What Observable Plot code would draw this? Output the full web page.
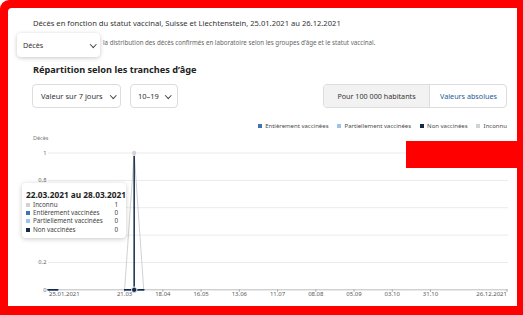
<!DOCTYPE html>
<html>
<head>
<meta charset="utf-8">
<script src="https://cdn.jsdelivr.net/npm/d3@7"></script>
<script src="https://cdn.jsdelivr.net/npm/@observablehq/plot@0.6"></script>
<style>
  html, body { margin: 0; padding: 0; }
  body { width: 523px; height: 315px; overflow: hidden; background: #fff; position: relative; font-family: "Noto Sans", sans-serif; color: #333; }
  .abs { position: absolute; white-space: nowrap; }
  .frame { left: 0; top: 0; width: 523px; height: 315px; background: #ff0000; border-radius: 9px 0 0 0; }
  .card { left: 8px; top: 8px; width: 509px; height: 298px; background: #fff; border-radius: 4px 0 0 0; }
  .chev { position: absolute; display: block; width: 3.5px; height: 3.5px; border-right: 1.2px solid #444; border-bottom: 1.2px solid #444; transform: rotate(45deg); }
  .btn { border: 1px solid #dcdcdc; border-radius: 4px; background: #fff; box-sizing: border-box; }
  #chart { position: absolute; left: 0; top: 130px; z-index: 2; }
  #redbox { left: 406px; top: 141px; width: 117px; height: 27px; background: #ff0000; z-index: 5; }
  #tooltip { left: 22px; top: 183px; width: 104px; height: 55px; background: #fff; border-radius: 4px; box-shadow: 0 1px 5px rgba(0,0,0,0.22); z-index: 4; }
  #legend { right: 16px; top: 121px; height: 9px; display: flex; align-items: center; font-size: 6px; color: #4a4a4a; z-index: 3; }
  #legend span.sq { display: inline-block; width: 4px; height: 4px; margin-right: 3.5px; }
  #legend span.it { display: inline-flex; align-items: center; margin-left: 8.5px; }
</style>
</head>
<body>
<script>
// ---------- Data ----------
const title = "Décès en fonction du statut vaccinal, Suisse et Liechtenstein, 25.01.2021 au 26.12.2021";
const subtitle = "la distribution des décès confirmés en laboratoire selon les groupes d’âge et le statut vaccinal.";
const heading = "Répartition selon les tranches d’âge";
const yAxisLabel = "Décès";

// weekly points (week ending Sunday)
const semaines = ["2021-01-24","2021-01-31","2021-02-07","2021-02-14","2021-02-21","2021-02-28","2021-03-07","2021-03-14","2021-03-21","2021-03-28","2021-04-04","2021-04-11","2021-04-18","2021-04-25","2021-05-02","2021-05-09","2021-05-16","2021-05-23","2021-05-30","2021-06-06","2021-06-13","2021-06-20","2021-06-27","2021-07-04","2021-07-11","2021-07-18","2021-07-25","2021-08-01","2021-08-08","2021-08-15","2021-08-22","2021-08-29","2021-09-05","2021-09-12","2021-09-19","2021-09-26","2021-10-03","2021-10-10","2021-10-17","2021-10-24","2021-10-31","2021-11-07","2021-11-14","2021-11-21","2021-11-28","2021-12-05","2021-12-12","2021-12-19","2021-12-26"];

const seriesNames  = ["Entièrement vaccinées", "Partiellement vaccinées", "Non vaccinées", "Inconnu"];
const seriesColors = ["#3b76b5", "#9dc3e6", "#15294a", "#d2d2d2"];

const entierementVaccinees   = [0,0,null,null,null,null,null,null,0,0,0,null,null,null,null,null,null,null,null,null,null,null,null,null,null,null,null,null,null,null,null,null,null,null,null,null,null,null,null,null,null,null,null,null,null,null,null,null,null];
const partiellementVaccinees = [0,0,null,null,null,null,null,null,0,0,0,null,null,null,null,null,null,null,null,null,null,null,null,null,null,null,null,null,null,null,null,null,null,null,null,null,null,null,null,null,null,null,null,null,null,null,null,null,null];
const nonVaccinees           = [0,0,null,null,null,null,null,null,0,0,0,null,null,null,null,null,null,null,null,null,null,null,null,null,null,null,null,null,null,null,null,null,null,null,null,null,null,null,null,null,null,null,null,null,null,null,null,null,null];
const inconnu                = [0,0,null,null,null,null,null,null,0,1,0,null,null,null,null,null,null,null,null,null,null,null,null,null,null,null,null,null,null,null,null,null,null,null,null,null,null,null,null,null,null,null,null,null,null,null,null,null,null];

const xDomain = ["2021-01-25", "2021-12-26"];
const xTickDates  = ["2021-01-25","2021-03-21","2021-04-18","2021-05-16","2021-06-13","2021-07-11","2021-08-08","2021-09-05","2021-10-03","2021-10-31","2021-12-26"];
const xTickLabels = ["25.01.2021","21.03","18.04","16.05","13.06","11.07","08.08","05.09","03.10","31.10","26.12.2021"];
const yGrid = [0, 0.2, 0.4, 0.6, 0.8, 1];
const yTickLabelsShown = [0, 0.2, 0.8, 1]; // 0,4 and 0,6 are hidden behind the tooltip

const hoverIndex = 9;
const tooltipTitle = "22.03.2021 au 28.03.2021";
const tooltipOrder = ["Inconnu", "Entièrement vaccinées", "Partiellement vaccinées", "Non vaccinées"];

// ---------- Build ----------
const valuesBySeries = {
  "Entièrement vaccinées": entierementVaccinees,
  "Partiellement vaccinées": partiellementVaccinees,
  "Non vaccinées": nonVaccinees,
  "Inconnu": inconnu
};
const colorOf = Object.fromEntries(seriesNames.map((s, i) => [s, seriesColors[i]]));
const drawOrder = ["Inconnu", "Partiellement vaccinées", "Entièrement vaccinées", "Non vaccinées"];
const long = [];
for (const s of drawOrder) {
  valuesBySeries[s].forEach((v, i) => long.push({serie: s, date: new Date(semaines[i]), value: v}));
}
const hoverDate = new Date(semaines[hoverIndex]);
const hoverRows = drawOrder.map(s => ({serie: s, date: hoverDate, value: valuesBySeries[s][hoverIndex]}));
const xTicks = xTickDates.map((d, i) => ({date: new Date(d), label: xTickLabels[i]}));

function el(html) { document.body.insertAdjacentHTML("beforeend", html); }

el(`<div class="abs frame"></div><div class="abs card"></div>`);
el(`<div class="abs" style="left:33px;top:17px;line-height:12px;font-size:7.6px;color:#333;">${title}</div>`);
el(`<div class="abs" style="left:103px;top:37px;line-height:11px;font-size:6.2px;color:#666;">${subtitle}</div>`);
el(`<div class="abs" style="left:17px;top:33px;width:83px;height:24px;background:#fff;border-radius:4px;box-shadow:0 1px 4px rgba(0,0,0,0.22);z-index:3;">
      <div class="abs" style="left:6px;top:6px;line-height:12px;font-size:7.2px;color:#333;">Décès</div>
      <span class="chev" style="left:74px;top:8.5px;"></span></div>`);
el(`<div class="abs" style="left:33px;top:63px;line-height:14px;font-size:9.2px;font-weight:700;color:#222;">${heading}</div>`);
el(`<div class="abs btn" style="left:32px;top:84px;width:89px;height:24px;">
      <div class="abs" style="left:8px;top:5px;line-height:12px;font-size:7.5px;color:#333;">Valeur sur 7 jours</div>
      <span class="chev" style="left:78px;top:7.5px;"></span></div>`);
el(`<div class="abs btn" style="left:130px;top:84px;width:48px;height:24px;">
      <div class="abs" style="left:7px;top:5px;line-height:12px;font-size:7.5px;color:#333;">10–19</div>
      <span class="chev" style="left:35px;top:7.5px;"></span></div>`);
el(`<div class="abs btn" style="left:323px;top:84px;width:184px;height:24px;overflow:hidden;">
      <div class="abs" style="left:0;top:0;width:105px;height:22px;background:#f2f2f2;border-right:1px solid #dcdcdc;text-align:center;line-height:22px;font-size:7.2px;color:#333;">Pour 100 000 habitants</div>
      <div class="abs" style="left:106px;top:0;width:77px;height:22px;text-align:center;line-height:22px;font-size:7.2px;color:#1d5a96;">Valeurs absolues</div></div>`);

el(`<div class="abs" id="legend">${seriesNames.map(s => `<span class="it"><span class="sq" style="background:${colorOf[s]}"></span>${s}</span>`).join("")}</div>`);
el(`<div class="abs" style="left:33px;top:133px;line-height:10px;font-size:5.5px;color:#777;z-index:3;">${yAxisLabel}</div>`);

const chart = Plot.plot({
  width: 523,
  height: 176,
  marginLeft: 49,
  marginRight: 16.5,
  marginTop: 22.5,
  marginBottom: 16.7,
  style: {background: "transparent", fontFamily: "Noto Sans", fontSize: "5.5px", overflow: "visible"},
  x: {type: "utc", domain: xDomain.map(d => new Date(d)), label: null},
  y: {domain: [0, 1], label: null},
  color: {domain: seriesNames, range: seriesColors},
  marks: [
    Plot.ruleY(yGrid, {stroke: "#ebebeb", strokeWidth: 1, insetLeft: -1, insetRight: -1.5}),
    Plot.ruleY([0], {stroke: "#c4c4c4", strokeWidth: 1, insetLeft: -2, insetRight: -1.5}),
    Plot.axisY({ticks: yTickLabelsShown, tickSize: 0, tickPadding: 3, label: null, fill: "#666", fontSize: 5.8,
                tickFormat: d => String(d).replace(".", ",")}),
    Plot.axisX({ticks: xTicks.map(d => d.date), tickSize: 2.5, label: null, stroke: "#aaa", tickFormat: () => ""}),
    Plot.text(xTicks.slice(0, 1), {x: "date", text: "label", frameAnchor: "bottom", dy: 6.3, dx: -0.5, textAnchor: "start", fill: "#5a5a5a", fontSize: 6}),
    Plot.text(xTicks.slice(1, -1), {x: "date", text: "label", frameAnchor: "bottom", dy: 6.3, textAnchor: "middle", fill: "#5a5a5a", fontSize: 6}),
    Plot.text(xTicks.slice(-1), {x: "date", text: "label", frameAnchor: "bottom", dy: 6.3, textAnchor: "end", fill: "#5a5a5a", fontSize: 6}),
    Plot.line(long.filter(d => d.serie === "Inconnu"), {x: "date", y: "value", z: "serie", stroke: "serie", strokeWidth: 1}),
    Plot.line(long.filter(d => d.serie !== "Inconnu"), {x: "date", y: "value", z: "serie", stroke: "serie", strokeWidth: 1.5}),
    Plot.ruleX([hoverDate], {y1: 0, y2: 1, stroke: colorOf["Non vaccinées"], strokeWidth: 1.5}),
    Plot.dot(hoverRows, {x: "date", y: "value", fill: "serie", r: 2.6, stroke: "#fff", strokeWidth: 0.7})
  ]
});
chart.id = "chart";
document.body.appendChild(chart);

el(`<div class="abs" id="redbox"></div>`);
el(`<div class="abs" id="tooltip">
  <div class="abs" style="left:4px;top:6px;line-height:12px;font-size:8.3px;font-weight:700;color:#222;">${tooltipTitle}</div>
  ${tooltipOrder.map((s, i) => `
    <div class="abs" style="left:4px;top:${18 + i * 8.2}px;width:92px;height:8px;font-size:6.3px;line-height:8px;color:#444;">
      <span style="position:absolute;left:0;top:2px;width:4px;height:4px;background:${colorOf[s]}"></span>
      <span style="position:absolute;left:7px;top:0;">${s}</span>
      <span style="position:absolute;right:0;top:0;">${valuesBySeries[s][hoverIndex]}</span>
    </div>`).join("")}
</div>`);
</script>
</body>
</html>
